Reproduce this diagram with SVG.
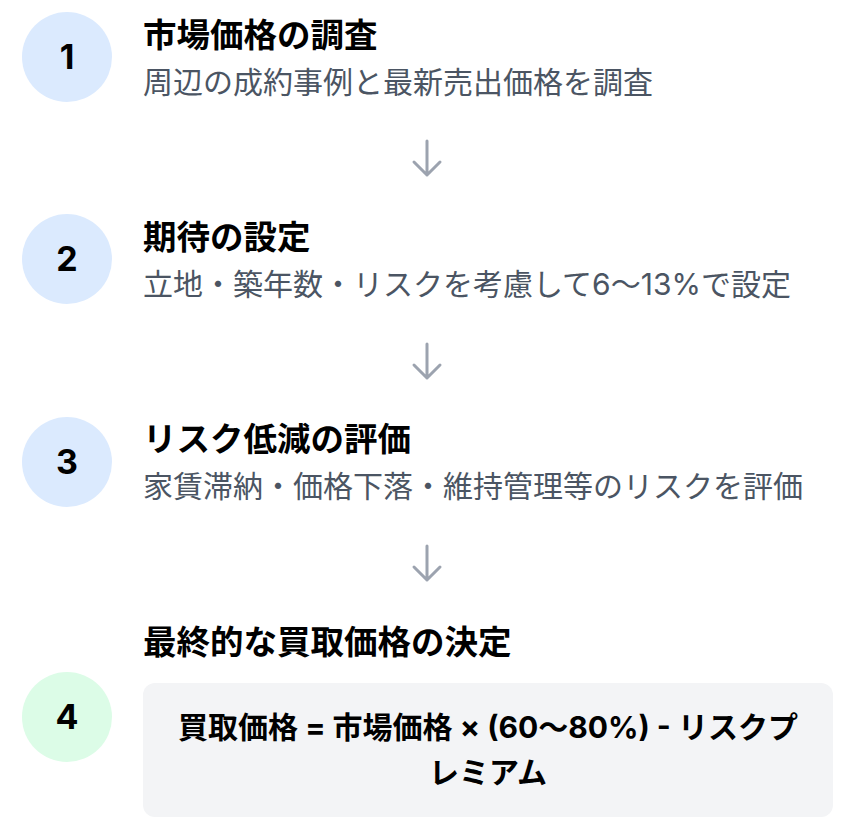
<svg xmlns="http://www.w3.org/2000/svg" width="848" height="831" viewBox="0 0 848 831">
<style>
text{font-family:"Inter","Noto Sans CJK JP",sans-serif}
.num{font-size:34px;font-weight:700;fill:#000000;text-anchor:middle}
.title{font-size:33.5px;font-weight:700;fill:#000000}
.sub{font-size:30px;fill:#4b5563}
.formula{font-size:30px;font-weight:700;fill:#000000;text-anchor:middle}
.c1{fill:#dbeafe}
.c4{fill:#dcfce7}
.arrow{stroke:#9ca3af;stroke-width:3;fill:none;stroke-linecap:round;stroke-linejoin:round}
</style>
<rect width="848" height="831" fill="#ffffff"/>
<g id="step1">
<circle class="c1" cx="67" cy="57" r="45"/>
<text class="num" x="67" y="69">1</text>
<text class="title" x="143" y="47">市場価格の調査</text>
<text class="sub" x="143" y="93">周辺の成約事例と最新売出価格を調査</text>
</g>
<g id="step2">
<circle class="c1" cx="67" cy="259" r="45"/>
<text class="num" x="67" y="271">2</text>
<text class="title" x="143" y="249">期待の設定</text>
<text class="sub" x="143" y="295">立地・築年数・リスクを考慮して6〜13%で設定</text>
</g>
<g id="step3">
<circle class="c1" cx="67" cy="462" r="45"/>
<text class="num" x="67" y="474">3</text>
<text class="title" x="143" y="451">リスク低減の評価</text>
<text class="sub" x="143" y="497">家賃滞納・価格下落・維持管理等のリスクを評価</text>
</g>
<g id="step4">
<circle class="c4" cx="67" cy="717" r="45"/>
<text class="num" x="67" y="729">4</text>
<text class="title" x="143" y="654">最終的な買取価格の決定</text>
<rect x="143" y="683" width="690" height="134" rx="12" fill="#f3f4f6"/>
<text class="formula" x="488" y="738">買取価格 = 市場価格 × (60〜80%) - リスクプ</text>
<text class="formula" x="488" y="783">レミアム</text>
</g>
<g id="connectors">
<path class="arrow" d="M427 141V175M414 162L427 175L440 162"/>
<path class="arrow" d="M427 344V378M414 365L427 378L440 365"/>
<path class="arrow" d="M427 546V580M414 567L427 580L440 567"/>
</g>
</svg>
